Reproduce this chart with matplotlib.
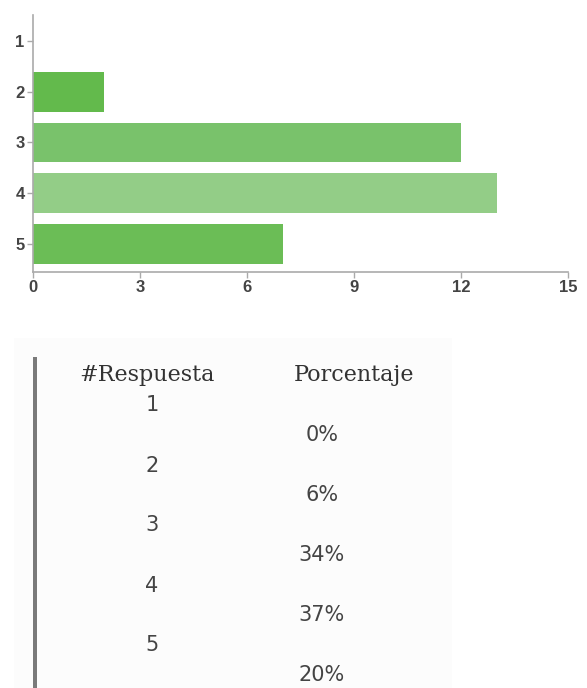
import matplotlib.pyplot as plt
from matplotlib.patches import Rectangle

# datos
respuestas = ['1', '2', '3', '4', '5']
conteos = [0, 2, 12, 13, 7]
porcentajes = ['0%', '6%', '34%', '37%', '20%']
colores = ['#6abd55', '#63ba4c', '#79c26b', '#93cd87', '#6bbd56']
ticks_x = [0, 3, 6, 9, 12, 15]

W, H = 587, 688
fig = plt.figure(figsize=(W / 100, H / 100), dpi=100)

# fondo gris muy claro de la tabla
fig.patches.append(Rectangle((14 / W, 0), (452 - 14) / W, (H - 338) / H,
                             transform=fig.transFigure, facecolor='#fcfcfc',
                             edgecolor='none', zorder=0))
# barra vertical gris
fig.patches.append(Rectangle((33 / W, 0), 4 / W, (H - 357) / H,
                             transform=fig.transFigure, facecolor='#7a7a7a',
                             edgecolor='none', zorder=1))

# grafico de barras horizontales
ax = fig.add_axes([33 / W, 1 - 272 / H, (568 - 33) / W, (272 - 15) / H])
pos = list(range(1, len(respuestas) + 1))
ax.barh(pos, conteos, height=0.78, color=colores, edgecolor='none')
ax.set_ylim(5.55, 0.49)
ax.set_xlim(0, 15)
ax.set_yticks(pos)
ax.set_yticklabels(respuestas)
ax.set_xticks(ticks_x)
ax.set_xticklabels([str(t) for t in ticks_x])
for s in ['top', 'right']:
    ax.spines[s].set_visible(False)
for s in ['left', 'bottom']:
    ax.spines[s].set_color('#aaaaaa')
    ax.spines[s].set_linewidth(1.2)
ax.tick_params(axis='both', colors='#aaaaaa', length=4, width=1,
               labelcolor='#444444', pad=2)
for lab in ax.get_xticklabels() + ax.get_yticklabels():
    lab.set_family('Liberation Sans')
    lab.set_fontsize(12)
    lab.set_fontweight('bold')
ax.patch.set_alpha(0)

# tabla de respuestas
fig.text(147 / W, 1 - 375 / H, '#Respuesta', family='DejaVu Serif',
         fontsize=16, color='#333333', ha='center', va='center')
fig.text(354 / W, 1 - 375 / H, 'Porcentaje', family='DejaVu Serif',
         fontsize=16, color='#333333', ha='center', va='center')

y_num = [405, 466, 525, 586, 645]
y_pct = [435, 495, 555, 615, 675]
for r, p, yn, yp in zip(respuestas, porcentajes, y_num, y_pct):
    fig.text(152 / W, 1 - yn / H, r, fontsize=15, color='#444444',
             ha='center', va='center')
    fig.text(322 / W, 1 - yp / H, p, fontsize=15, color='#444444',
             ha='center', va='center')

fig.savefig('out.png', dpi=100)
